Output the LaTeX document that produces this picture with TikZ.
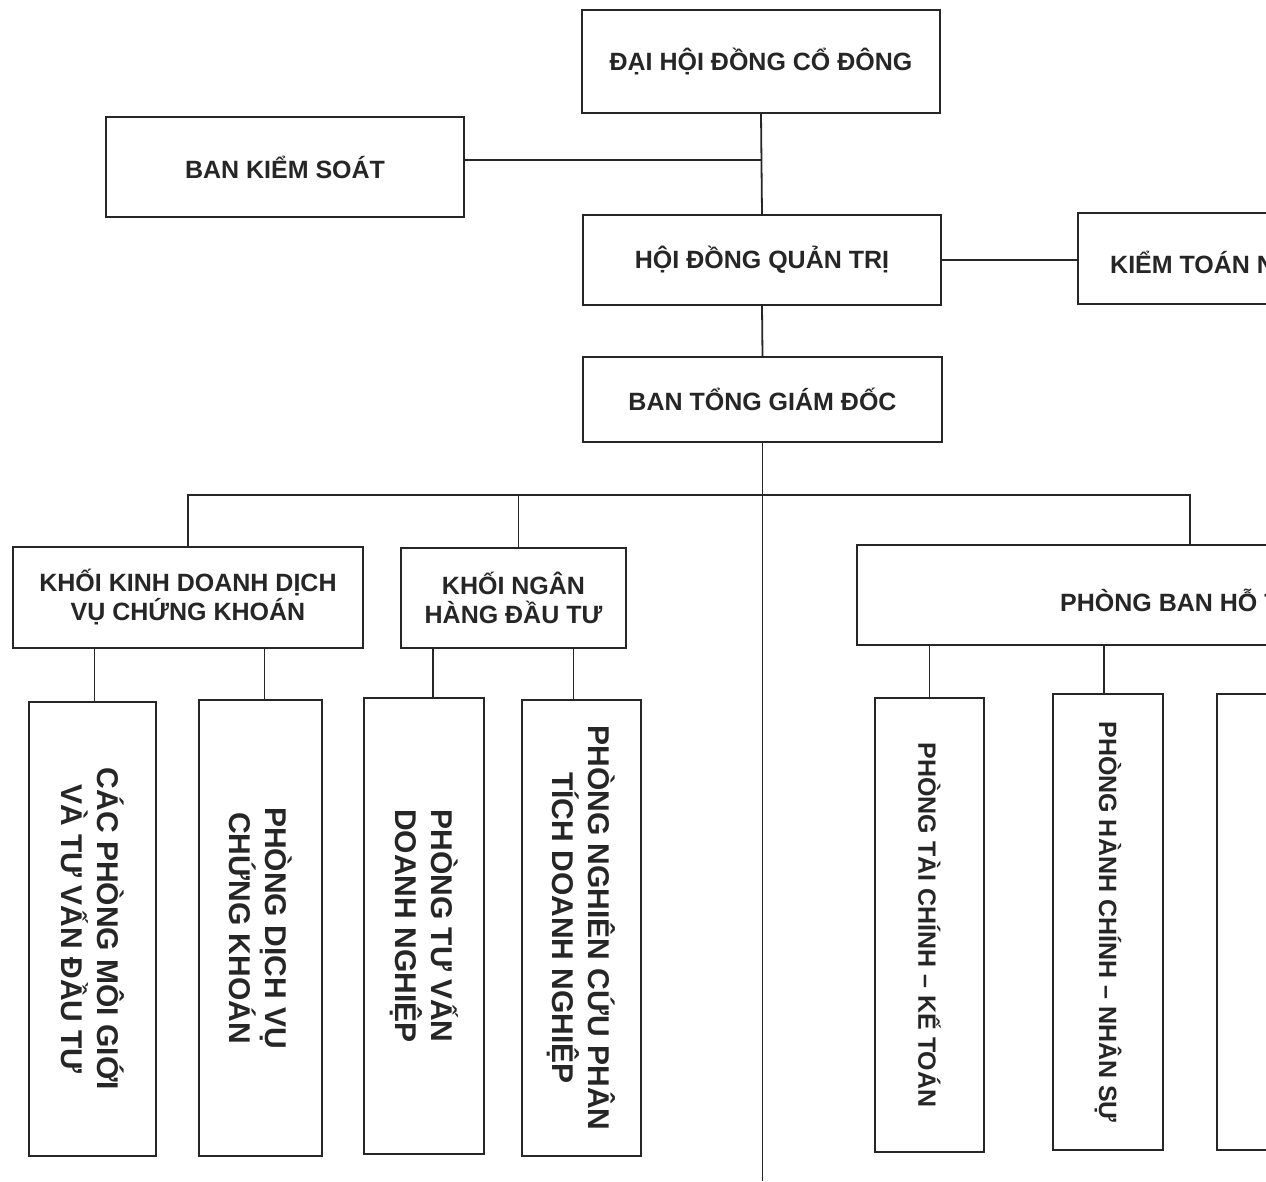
\documentclass[tikz,border=0pt]{standalone}
\usepackage{fontspec}
\setmainfont{Liberation Sans}
\begin{document}
\begin{tikzpicture}[x=1pt,y=-1pt,
  box/.style={draw=black!85, line width=1.8pt, inner sep=0pt},
  lbl/.style={font=\bfseries\fontsize{25}{29}\selectfont, text=black!85, align=center, inner sep=0pt},
  vlbl/.style={font=\bfseries\fontsize{30}{36}\selectfont, text=black!85, align=center, inner sep=0pt, rotate=-90},
  vlbls/.style={font=\bfseries\fontsize{25}{30}\selectfont, text=black!85, align=center, inner sep=0pt, rotate=-90},
  conn/.style={draw=black!85, line width=1.8pt}]
\useasboundingbox (0,0) rectangle (1266,1181);
\fill[white] (0,0) rectangle (1266,1181);
\clip (0,0) rectangle (1266,1181);

% top level
\node[box,lbl,minimum width=358,minimum height=103] (dh) at (761,61.5) {ĐẠI HỘI ĐỒNG CỔ ĐÔNG};
\node[box,lbl,minimum width=358,minimum height=100] (bks) at (285,167) {BAN KIỂM SOÁT};
\node[box,lbl,minimum width=358,minimum height=90] (hd) at (762,260) {HỘI ĐỒNG QUẢN TRỊ};
\node[box,minimum width=322,minimum height=91] (kt) at (1239,258.5) {};
\node[lbl,anchor=west] (ktl) at (1110,262) {KIỂM TOÁN N};
\node[box,lbl,minimum width=359,minimum height=85] (btg) at (762.5,399.5) {BAN TỔNG GIÁM ĐỐC};

% second level
\node[box,lbl,minimum width=350,minimum height=101] (kkd) at (188,597.5) {KHỐI KINH DOANH DỊCH\\VỤ CHỨNG KHOÁN};
\node[box,lbl,minimum width=225,minimum height=100] (knh) at (513.5,598) {KHỐI NGÂN\\HÀNG ĐẦU TƯ};
\node[box,minimum width=666,minimum height=100] (pb) at (1190,595) {};
\node[lbl,anchor=west] (pbl) at (1060,600) {PHÒNG BAN HỖ T};

% third level
\node[box,minimum width=127,minimum height=454] (b1) at (92.5,929) {};
\node[vlbl] (b1l) at (b1.center) {CÁC PHÒNG MÔI GIỚI\\VÀ TƯ VẤN ĐẦU TƯ};
\node[box,minimum width=123,minimum height=456] (b2) at (260.5,928) {};
\node[vlbl] (b2l) at (b2.center) {PHÒNG DỊCH VỤ\\CHỨNG KHOÁN};
\node[box,minimum width=120,minimum height=456] (b3) at (424,926) {};
\node[vlbl] (b3l) at (b3.center) {PHÒNG TƯ VẤN\\DOANH NGHIỆP};
\node[box,minimum width=119,minimum height=456] (b4) at (581.5,928) {};
\node[vlbl] (b4l) at (b4.center) {PHÒNG NGHIÊN CỨU PHÂN\\TÍCH DOANH NGHIỆP};
\node[box,minimum width=109,minimum height=454] (b5) at (929.5,925) {};
\node[vlbls] (b5l) at (b5.center) {PHÒNG TÀI CHÍNH – KẾ TOÁN};
\node[box,minimum width=110,minimum height=456] (b6) at (1108,922) {};
\node[vlbls] (b6l) at (b6.center) {PHÒNG HÀNH CHÍNH – NHÂN SỰ};
\node[box,minimum width=110,minimum height=456] (b7) at (1272,922) {};

% helper coordinates
\coordinate (y160) at (0,160);
\coordinate (busy) at (0,495);
\coordinate (bot) at (0,1181);

% connectors
\draw[conn] (dh.south) -- (hd.north);
\draw[conn] (bks.east |- y160) -- (dh.south |- y160);
\draw[conn] (hd.east) -- (hd.east -| kt.west);
\draw[conn] (hd.south) -- (btg.north);
\draw[conn] (btg.south) -- (btg.south |- bot);
\draw[conn] (kkd.north) -- (kkd.north |- busy) -- (pb.north |- busy) -- (pb.north);
\draw[conn] ([xshift=5pt]knh.north) -- ([xshift=5pt]knh.north |- busy);
\draw[conn] ([xshift=2pt]b1.north) -- ([xshift=2pt]b1.north |- kkd.south);
\draw[conn] ([xshift=4pt]b2.north) -- ([xshift=4pt]b2.north |- kkd.south);
\draw[conn] ([xshift=9pt]b3.north) -- ([xshift=9pt]b3.north |- knh.south);
\draw[conn] ([xshift=-8pt]b4.north) -- ([xshift=-8pt]b4.north |- knh.south);
\draw[conn] (b5.north) -- (b5.north |- pb.south);
\draw[conn] ([xshift=-4pt]b6.north) -- ([xshift=-4pt]b6.north |- pb.south);
\end{tikzpicture}
\end{document}
